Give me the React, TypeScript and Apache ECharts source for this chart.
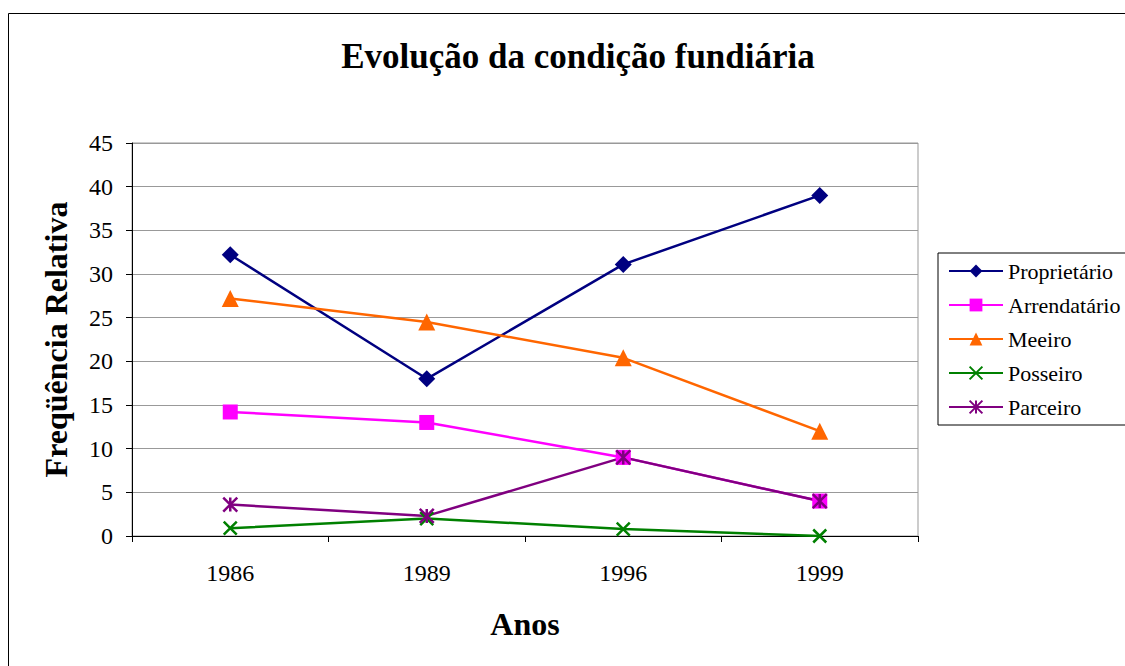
import React, { useEffect, useRef } from "react";
import * as echarts from "echarts";

const years = ["1986", "1989", "1996", "1999"];
const proprietario = [32.2, 18.0, 31.1, 39.0];
const arrendatario = [14.2, 13.0, 9.0, 4.0];
const meeiro = [27.2, 24.5, 20.4, 12.0];
const posseiro = [0.9, 2.0, 0.8, 0.0];
const parceiro = [3.6, 2.3, 9.0, 4.0];

const FONT = "'Liberation Serif', 'Times New Roman', serif";
const X_PATH = "path://M0,0L10,10M10,0L0,10";
const AST_PATH = "path://M0,0L10,10M10,0L0,10M5,0L5,10";

export default function App() {
  const ref = useRef<HTMLDivElement>(null);
  useEffect(() => {
    const chart = echarts.init(ref.current!, null, { renderer: "svg" });
    const mk = (name: string, data: number[], color: string, symbol: string, size: number, stroke: boolean) => ({
      name,
      type: "line",
      data,
      symbol,
      symbolSize: size,
      lineStyle: { color, width: 2.5 },
      itemStyle: stroke
        ? { color: "rgba(0,0,0,0)", borderColor: color, borderWidth: 2.5 }
        : { color, borderWidth: 0 },
      emphasis: { disabled: true },
    });
    chart.setOption({
      animation: false,
      backgroundColor: "#fff",
      textStyle: { fontFamily: FONT },
      title: {
        text: "Evolução da condição fundiária",
        left: 573,
        textAlign: "center",
        top: 34,
        textStyle: { fontFamily: FONT, fontSize: 35, fontWeight: "bold", color: "#000" },
      },
      graphic: [
        {
          type: "rect",
          shape: { x: 8.5, y: 13.5, width: 1130, height: 700 },
          style: { fill: "none", stroke: "#000", lineWidth: 1 },
          silent: true,
          z: -1,
        },
      ],
      legend: {
        orient: "vertical",
        left: 938,
        top: 253,
        padding: [7, 10, 7, 10],
        borderColor: "#000",
        borderWidth: 1,
        itemWidth: 54,
        itemHeight: 16,
        itemGap: 12,
        textStyle: { fontFamily: FONT, fontSize: 22, color: "#000" },
        data: ["Proprietário", "Arrendatário", "Meeiro", "Posseiro", "Parceiro"],
      },
      grid: {
        left: 132,
        top: 143,
        right: 207,
        bottom: 130,
        show: true,
        borderColor: "#999",
        borderWidth: 1,
        backgroundColor: "#fff",
      },
      xAxis: {
        type: "category",
        data: years,
        boundaryGap: true,
        axisLine: { lineStyle: { color: "#000", width: 1 } },
        axisTick: { show: true, length: 6, lineStyle: { color: "#000" } },
        axisLabel: { fontFamily: FONT, fontSize: 24, color: "#000", margin: 25 },
        name: "Anos",
        nameLocation: "middle",
        nameGap: 88,
        nameTextStyle: { fontFamily: FONT, fontSize: 32, fontWeight: "bold", color: "#000", verticalAlign: "middle" },
      },
      yAxis: {
        type: "value",
        min: 0,
        max: 45,
        interval: 5,
        axisLine: { show: true, lineStyle: { color: "#000", width: 1 } },
        axisTick: { show: true, length: 6, lineStyle: { color: "#000" } },
        axisLabel: { fontFamily: FONT, fontSize: 24, color: "#000", margin: 19 },
        splitLine: { lineStyle: { color: "#999", width: 1 } },
        name: "Freqüência Relativa",
        nameLocation: "middle",
        nameGap: 76,
        nameTextStyle: { fontFamily: FONT, fontSize: 32, fontWeight: "bold", color: "#000", verticalAlign: "middle" },
      },
      series: [
        mk("Proprietário", proprietario, "#000080", "diamond", 17, false),
        mk("Arrendatário", arrendatario, "#FF00FF", "rect", 15, false),
        mk("Meeiro", meeiro, "#FF6600", "triangle", 17, false),
        mk("Posseiro", posseiro, "#008000", X_PATH, 13, true),
        mk("Parceiro", parceiro, "#800080", AST_PATH, 14, true),
      ],
    });
    return () => chart.dispose();
  }, []);
  return (
    <div
      ref={ref}
      style={{ position: "fixed", left: 0, top: 0, width: 1125, height: 666, background: "#fff" }}
    />
  );
}
